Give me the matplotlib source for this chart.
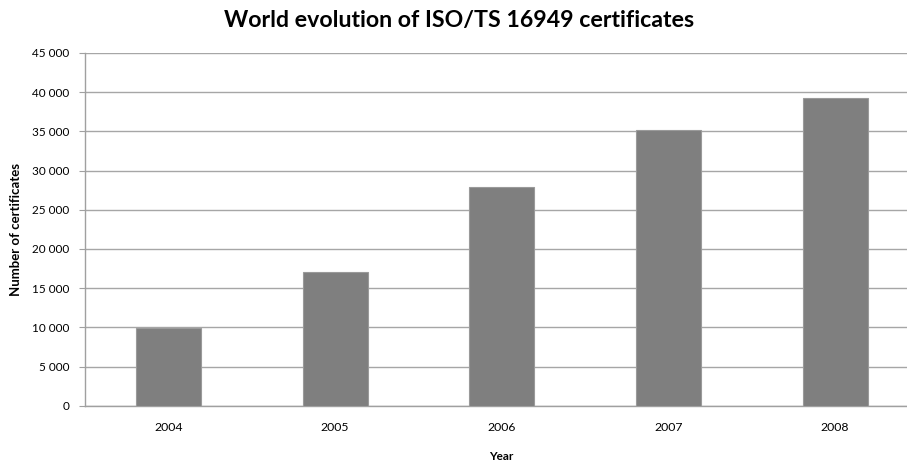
import matplotlib
matplotlib.use('Agg')
import matplotlib.pyplot as plt
import numpy as np

# --- DATA ---
years = ["2004", "2005", "2006", "2007", "2008"]
certificates = [9900, 17050, 27900, 35150, 39220]
y_ticks = list(range(0, 45001, 5000))

plt.rcParams['font.family'] = ['Lato', 'DejaVu Sans']

fig = plt.figure(figsize=(9.07, 4.63), dpi=100)
# plot area runs a bit past the right edge, as in the original
ax = fig.add_axes([85 / 907, 1 - 405.7 / 463, 833.5 / 907, 352.7 / 463])

x = np.arange(len(years))
ax.bar(x, certificates, width=0.39, color='#7f7f7f', edgecolor='#9a9a9a', linewidth=0.8, zorder=3)

ax.set_xlim(-0.5, len(years) - 0.5)
ax.set_ylim(0, 45000)
ax.set_xticks(x)
ax.set_xticklabels(years)
ax.set_yticks(y_ticks)
ax.set_yticklabels([f"{v:,}".replace(",", " ") for v in y_ticks])

ax.grid(axis='y', color='#a6a6a6', linewidth=1.0, zorder=0)
for s in ['top', 'right']:
    ax.spines[s].set_visible(False)
for s in ['left', 'bottom']:
    ax.spines[s].set_color('#a0a0a0')
    ax.spines[s].set_linewidth(1.0)

ax.tick_params(axis='y', length=4, color='#a0a0a0', labelsize=8.5, pad=7)
ax.tick_params(axis='x', length=0, labelsize=8.8, pad=12)

fig.text(459 / 907, 1 - 21 / 463, "World evolution of ISO/TS 16949 certificates",
         ha='center', va='center', fontsize=16.7, fontweight='bold')
fig.text(16 / 907, 1 - 230 / 463, "Number of certificates", rotation=90,
         ha='center', va='center', fontsize=9.5, fontweight='bold')
fig.text(501 / 907, 1 - 457 / 463, "Year", ha='center', va='center',
         fontsize=8.5, fontweight='bold')

fig.savefig('out.png', dpi=100)
